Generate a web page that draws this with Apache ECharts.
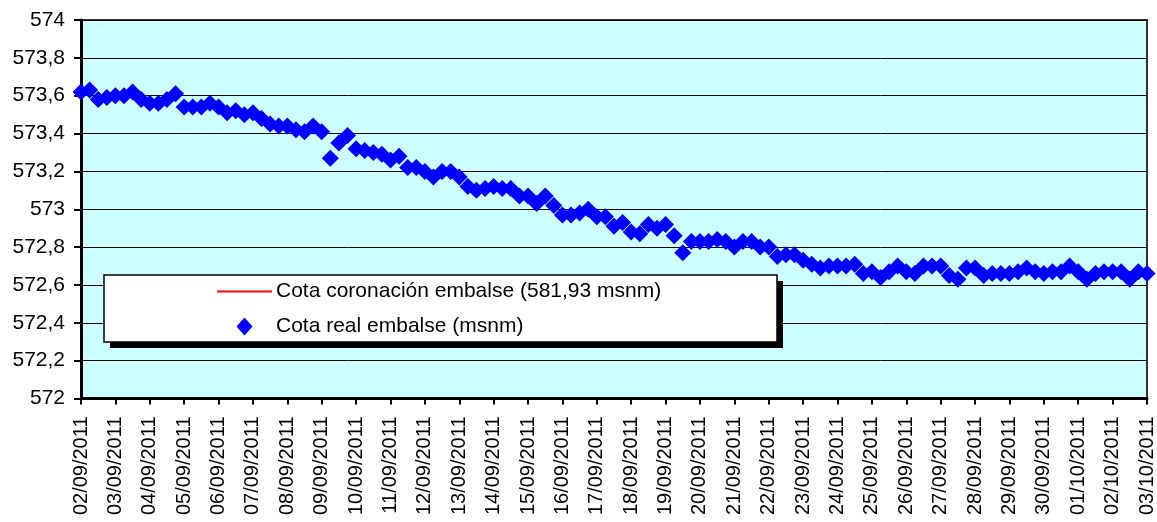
<!DOCTYPE html>
<html>
<head>
<meta charset="utf-8">
<script src="https://cdn.jsdelivr.net/npm/echarts@6/dist/echarts.min.js"></script>
<style>
html,body{margin:0;padding:0;background:#fff;}
#chart{width:1157px;height:522px;}
</style>
</head>
<body>
<div id="chart"></div>
<script>
// Tick labels (one per day)
const dayLabels = [
  '02/09/2011','03/09/2011','04/09/2011','05/09/2011','06/09/2011','07/09/2011','08/09/2011',
  '09/09/2011','10/09/2011','11/09/2011','12/09/2011','13/09/2011','14/09/2011','15/09/2011',
  '16/09/2011','17/09/2011','18/09/2011','19/09/2011','20/09/2011','21/09/2011','22/09/2011',
  '23/09/2011','24/09/2011','25/09/2011','26/09/2011','27/09/2011','28/09/2011','29/09/2011',
  '30/09/2011','01/10/2011','02/10/2011','03/10/2011'
];
// Readings every 6 hours
const hours = ['00:00','06:00','12:00','18:00'];
const yTicks = [572, 572.2, 572.4, 572.6, 572.8, 573, 573.2, 573.4, 573.6, 573.8, 574];

// Cota real embalse (msnm)
const realLevel = [
  573.62, 573.63, 573.58, 573.59, 573.60, 573.60, 573.62, 573.58,
  573.56, 573.56, 573.58, 573.61, 573.54, 573.54, 573.54, 573.56,
  573.54, 573.51, 573.52, 573.50, 573.51, 573.48, 573.45, 573.44,
  573.44, 573.42, 573.41, 573.44, 573.41, 573.27, 573.35, 573.39,
  573.32, 573.31, 573.30, 573.29, 573.26, 573.28, 573.22, 573.22,
  573.20, 573.17, 573.20, 573.20, 573.17, 573.12, 573.10, 573.11,
  573.12, 573.11, 573.11, 573.07, 573.07, 573.03, 573.07, 573.02,
  572.97, 572.97, 572.98, 573.00, 572.96, 572.96, 572.91, 572.93,
  572.88, 572.87, 572.92, 572.90, 572.92, 572.86, 572.77, 572.83,
  572.83, 572.83, 572.84, 572.83, 572.80, 572.83, 572.83, 572.80,
  572.80, 572.75, 572.76, 572.76, 572.73, 572.71, 572.69, 572.70,
  572.70, 572.70, 572.71, 572.66, 572.67, 572.64, 572.67, 572.70,
  572.67, 572.66, 572.70, 572.70, 572.70, 572.65, 572.63, 572.69,
  572.69, 572.65, 572.66, 572.66, 572.66, 572.67, 572.69, 572.67,
  572.66, 572.67, 572.67, 572.70, 572.67, 572.63, 572.66, 572.67,
  572.67, 572.67, 572.63, 572.67, 572.66
];
// Cota coronación embalse (constant crest level, above the visible range)
const crestLevel = 581.93;

const seriesNames = ['Cota coronación embalse (581,93 msnm)', 'Cota real embalse (msnm)'];

const categories = [];
for (let d = 0; d < dayLabels.length - 1; d++) {
  for (const h of hours) categories.push(dayLabels[d] + ' ' + h);
}
categories.push(dayLabels[dayLabels.length - 1] + ' ' + hours[0]);
const crestValues = categories.map(() => crestLevel);

const FONT = "'Liberation Sans', Arial, sans-serif";
const chart = echarts.init(document.getElementById('chart'), null, {renderer: 'canvas'});
chart.setOption({
  animation: false,
  backgroundColor: '#ffffff',
  textStyle: {fontFamily: FONT},
  grid: {
    left: 81, right: 9, top: 20, bottom: 123.5,
    show: true, backgroundColor: '#CCFFFF', borderColor: '#333333', borderWidth: 2
  },
  xAxis: {
    type: 'category',
    data: categories,
    boundaryGap: false,
    axisLine: {lineStyle: {color: '#000', width: 3}},
    axisTick: {show: true, interval: 3, length: 6, lineStyle: {color: '#000', width: 2}},
    axisLabel: {
      interval: 3, rotate: 90, margin: 18, color: '#000', fontSize: 20, fontFamily: FONT,
      formatter: v => v.split(' ')[0]
    },
    splitLine: {show: false}
  },
  yAxis: {
    type: 'value',
    min: yTicks[0], max: yTicks[yTicks.length - 1], interval: 0.2,
    axisLine: {show: true, lineStyle: {color: '#000', width: 3}},
    axisTick: {show: true, length: 7, lineStyle: {color: '#000', width: 2}},
    axisLabel: {
      margin: 16, color: '#000', fontSize: 21, fontFamily: FONT,
      formatter: v => String(+v.toFixed(1)).replace('.', ',')
    },
    splitLine: {show: true, lineStyle: {color: '#000', width: 1}}
  },
  graphic: [
    {type: 'rect', z: 50, shape: {x: 110, y: 281, width: 673, height: 67}, style: {fill: '#000'}},
    {type: 'rect', z: 51, shape: {x: 104, y: 275, width: 673, height: 67}, style: {fill: '#fff', stroke: '#000', lineWidth: 1.5}}
  ],
  legend: {
    z: 60,
    orient: 'vertical',
    left: 217, top: 281,
    padding: 0,
    itemWidth: 55, itemHeight: 18, itemGap: 14,
    symbolKeepAspect: true,
    textStyle: {fontSize: 21, color: '#000', fontFamily: FONT, padding: [0, 0, 0, -1]},
    data: [
      {name: seriesNames[0], icon: 'path://M0,0 L55,0 L55,2 L0,2 Z'},
      {name: seriesNames[1], icon: 'path://M0,9 L8,0 L16,9 L8,18 Z'}
    ]
  },
  series: [
    {
      name: seriesNames[0], type: 'line', data: crestValues,
      symbol: 'none', lineStyle: {color: '#FF0000', width: 2}, itemStyle: {color: '#FF0000'}, clip: true
    },
    {
      name: seriesNames[1], type: 'scatter', data: realLevel,
      symbol: 'diamond', symbolSize: 17, itemStyle: {color: '#0000FF', opacity: 1}
    }
  ]
});
</script>
</body>
</html>
